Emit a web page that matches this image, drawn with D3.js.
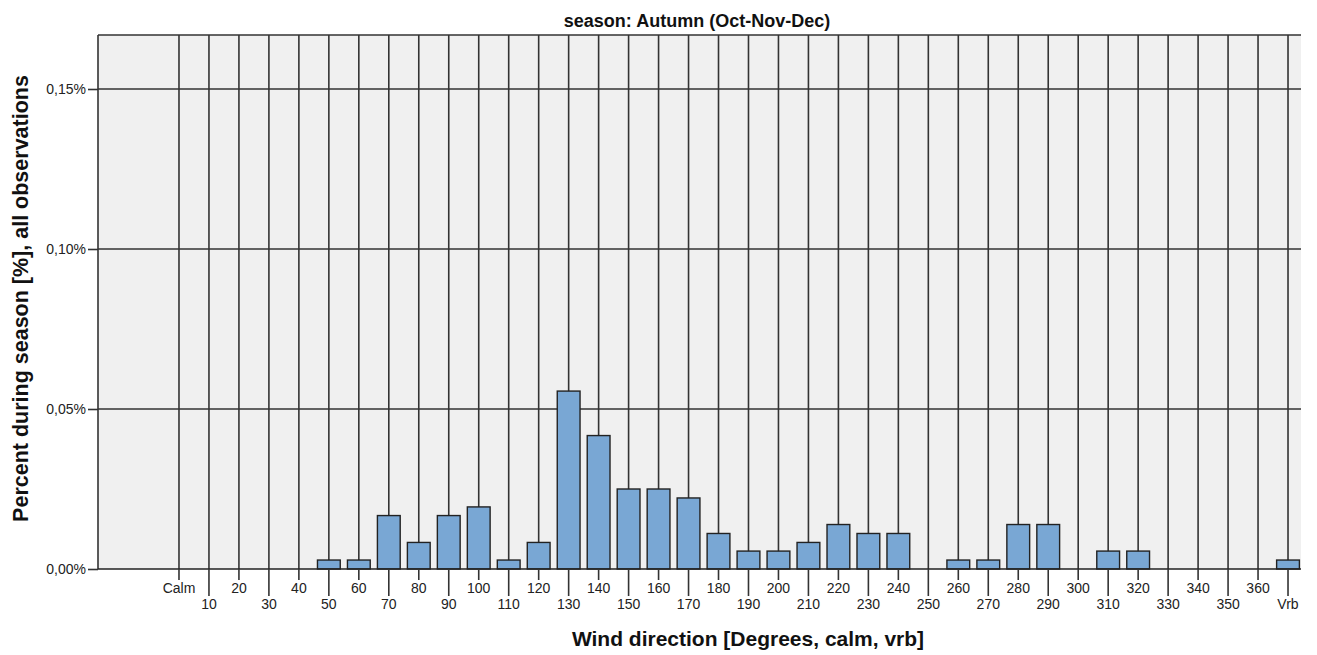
<!DOCTYPE html>
<html><head><meta charset="utf-8">
<script src="https://cdn.jsdelivr.net/npm/d3@7"></script>
<style>
body{margin:0;background:#fff;}
svg{display:block;font-family:"Liberation Sans",Arial,sans-serif;}
</style></head><body>
<svg id="c" width="1317" height="655"></svg>
<script>
const categories = ["Calm","10","20","30","40","50","60","70","80","90","100","110","120","130","140","150","160","170","180","190","200","210","220","230","240","250","260","270","280","290","300","310","320","330","340","350","360","Vrb"];
const percentValues = [0,0,0,0,0,0.0028,0.0028,0.0167,0.0083,0.0167,0.0194,0.0028,0.0083,0.0556,0.0417,0.025,0.025,0.0222,0.0111,0.0056,0.0056,0.0083,0.0139,0.0111,0.0111,0,0.0028,0.0028,0.0139,0.0139,0,0.0056,0.0056,0,0,0,0,0.0028];
const yTicks = [0,0.05,0.10,0.15];
const titleText = "season: Autumn (Oct-Nov-Dec)";
const xTitle = "Wind direction [Degrees, calm, vrb]";
const yTitle = "Percent during season [%], all observations";

const svg = d3.select("#c");
const plot = {left:98, right:1301, top:35, bottom:569};
const x = d3.scaleBand().domain(categories).range([164,1303]).paddingInner(0.24).paddingOuter(0.12);
const y = d3.scaleLinear().domain([0,0.166875]).range([plot.bottom, plot.top]);
const gridColor = "#333";

svg.append("rect").attr("x",plot.left).attr("y",plot.top)
  .attr("width",plot.right-plot.left).attr("height",plot.bottom-plot.top).attr("fill","#f0f0f0");

svg.append("g").selectAll("line").data(yTicks.filter(d=>d>0)).join("line")
  .attr("x1",plot.left).attr("x2",plot.right)
  .attr("y1",d=>y(d)).attr("y2",d=>y(d))
  .attr("stroke",gridColor).attr("stroke-width",1.6);

svg.append("g").selectAll("line").data(categories).join("line")
  .attr("x1",d=>x(d)+x.bandwidth()/2).attr("x2",d=>x(d)+x.bandwidth()/2)
  .attr("y1",plot.top).attr("y2",plot.bottom)
  .attr("stroke",gridColor).attr("stroke-width",1.6);

svg.append("line").attr("x1",plot.left).attr("x2",plot.right).attr("y1",plot.top).attr("y2",plot.top)
  .attr("stroke",gridColor).attr("stroke-width",1.6);
svg.append("line").attr("x1",plot.left).attr("x2",plot.left).attr("y1",plot.top).attr("y2",plot.bottom)
  .attr("stroke",gridColor).attr("stroke-width",1.6);

svg.append("g").selectAll("rect").data(categories.map((c,i)=>({c,v:percentValues[i]}))).join("rect")
  .attr("x",d=>x(d.c)).attr("width",x.bandwidth())
  .attr("y",d=>y(d.v)).attr("height",d=>y(0)-y(d.v))
  .attr("fill","#79a7d4").attr("stroke","#222").attr("stroke-width",1.4);

svg.append("line").attr("x1",plot.left).attr("x2",plot.right).attr("y1",plot.bottom).attr("y2",plot.bottom)
  .attr("stroke","#222").attr("stroke-width",1.4);

const ya = svg.append("g").attr("transform",`translate(${plot.left},0)`)
  .call(d3.axisLeft(y).tickValues(yTicks).tickSize(10).tickPadding(2)
    .tickFormat(d=>d3.format(".2f")(d).replace(".",",")+"%"));
ya.select(".domain").remove();
ya.selectAll(".tick line").attr("stroke",gridColor).attr("stroke-width",1.6);
ya.selectAll("text").attr("font-size",14).attr("fill","#222").attr("font-family","Liberation Sans, Arial, sans-serif");

const xa = svg.append("g").attr("transform",`translate(0,${plot.bottom})`)
  .call(d3.axisBottom(x).tickSizeOuter(0));
xa.select(".domain").remove();
xa.selectAll(".tick").each(function(d,i){
  const g = d3.select(this);
  const long = i%2===1;
  g.select("line").attr("y2", long?27:11).attr("stroke",gridColor).attr("stroke-width",1.6);
  g.select("text").attr("y", long?30:14).attr("dy","0.71em")
    .attr("font-size",14).attr("fill","#222").attr("font-family","Liberation Sans, Arial, sans-serif");
});

svg.append("text").attr("x",697).attr("y",27).attr("text-anchor","middle")
  .attr("font-weight","bold").attr("font-size",18).attr("fill","#111").text(titleText);
svg.append("text").attr("x",748).attr("y",646).attr("text-anchor","middle")
  .attr("font-weight","bold").attr("font-size",21).attr("fill","#111").text(xTitle);
svg.append("text").attr("transform","translate(28,298.5) rotate(-90)").attr("text-anchor","middle")
  .attr("font-weight","bold").attr("font-size",21.5).attr("fill","#111").text(yTitle);
</script>
</body></html>
